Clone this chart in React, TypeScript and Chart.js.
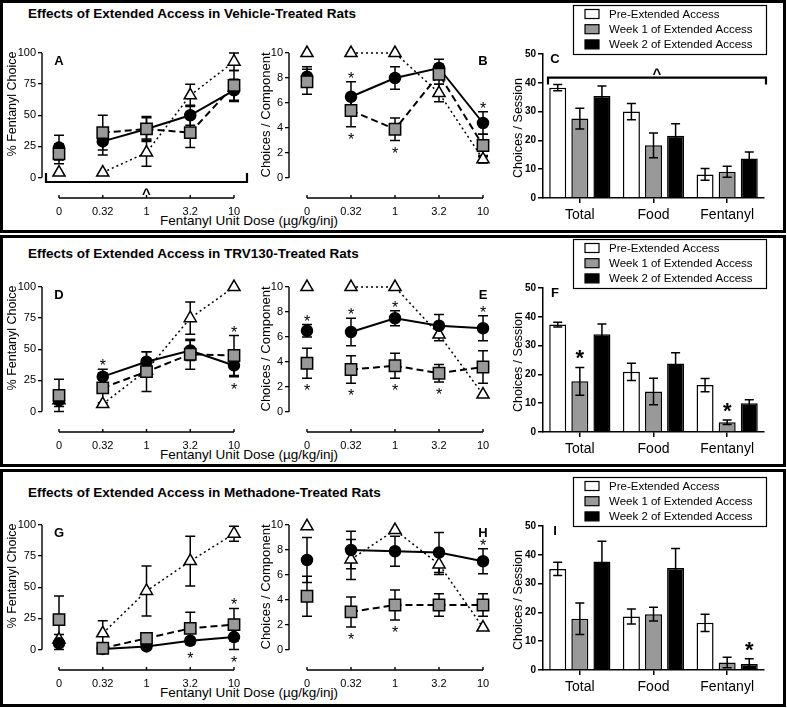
import React, { useEffect, useRef } from 'react';
import { Chart, registerables } from 'chart.js';

Chart.register(...registerables);

const FONT = '"Liberation Sans", Arial, Helvetica, sans-serif';
Chart.defaults.font.family = FONT;
Chart.defaults.color = '#000';

// ---------- labels ----------
const DOSE_LABELS = ['0', '0.32', '1', '3.2', '10'];
const BAR_LABELS = ['Total', 'Food', 'Fentanyl'];
const SERIES_NAMES = ['Pre-Extended Access', 'Week 1 of Extended Access', 'Week 2 of Extended Access'];
const ROW_TITLES = [
  'Effects of Extended Access in Vehicle-Treated Rats',
  'Effects of Extended Access in TRV130-Treated Rats',
  'Effects of Extended Access in Methadone-Treated Rats',
];
const X_TITLE = 'Fentanyl Unit Dose (µg/kg/inj)';
const PCT_TITLE = '% Fentanyl Choice';
const COMP_TITLE = 'Choices / Component';
const SESSION_TITLE = 'Choices / Session';
const PCT_TICKS = [0, 25, 50, 75, 100];
const COMP_TICKS = [0, 2, 4, 6, 8, 10];

// ---------- data (mean, SEM) ----------
// A: % fentanyl choice, vehicle
const A_PRE = [4, 4, 20, 66, 93];
const A_PRE_SEM = [0, 0, 11, 9, 7];
const A_WK1 = [19, 36, 39, 36, 74];
const A_WK1_SEM = [8, 14, 9, 12, 12];
const A_WK2 = [24, 29, 39, 50, 70];
const A_WK2_SEM = [10, 11, 10, 8, 9];
// B: choices / component, vehicle
const B_PRE = [10, 10, 10, 6.8, 1.5];
const B_PRE_SEM = [0, 0, 0, 0.7, 0.3];
const B_WK1 = [7.7, 5.4, 3.9, 8.3, 2.6];
const B_WK1_SEM = [1.0, 1.3, 0.9, 0.8, 0.9];
const B_WK2 = [8.1, 6.5, 8.0, 8.8, 4.4];
const B_WK2_SEM = [0.8, 1.2, 0.9, 0.7, 0.9];
// C: choices / session, vehicle (Total, Food, Fentanyl)
const C_PRE = [38.3, 30.0, 8.2];
const C_PRE_SEM = [1.1, 2.8, 2.0];
const C_WK1 = [27.6, 18.3, 9.1];
const C_WK1_SEM = [3.6, 4.3, 1.9];
const C_WK2 = [35.4, 21.6, 13.7];
const C_WK2_SEM = [3.5, 4.2, 2.3];
// D: % fentanyl choice, TRV130
const D_PRE = [9, 6, 33, 75, 100];
const D_PRE_SEM = [0, 0, 0, 13, 0];
const D_WK1 = [13, 19, 32, 46, 45];
const D_WK1_SEM = [13, 12, 16, 12, 16];
const D_WK2 = [9, 28, 40, 49, 37];
const D_WK2_SEM = [5, 6, 8, 8, 9];
// E: choices / component, TRV130
const E_PRE = [10, 10, 10, 6.2, 1.4];
const E_PRE_SEM = [0, 0, 0, 0.5, 0];
const E_WK1 = [3.9, 3.4, 3.7, 3.1, 3.6];
const E_WK1_SEM = [1.2, 1.1, 1.0, 0.7, 1.3];
const E_WK2 = [6.5, 6.4, 7.5, 6.9, 6.7];
const E_WK2_SEM = [0.5, 1.1, 0.6, 0.9, 1.0];
// F: choices / session, TRV130
const F_PRE = [37.3, 20.9, 16.3];
const F_PRE_SEM = [0.8, 3.0, 2.3];
const F_WK1 = [17.6, 14.1, 3.4];
const F_WK1_SEM = [4.8, 4.6, 0.8];
const F_WK2 = [33.9, 23.8, 10.0];
const F_WK2_SEM = [3.6, 3.7, 1.2];
// G: % fentanyl choice, methadone
const G_PRE = [8, 13, 47, 71, 93];
const G_PRE_SEM = [0, 10, 20, 20, 6];
const G_WK1 = [24, 1, 9, 17, 20];
const G_WK1_SEM = [19, 0, 4, 13, 13];
const G_WK2 = [5, 0.5, 2.5, 7, 10];
const G_WK2_SEM = [7, 0, 0, 0, 10];
// H: choices / component, methadone
const H_PRE = [9.9, 7.25, 9.6, 6.85, 1.8];
const H_PRE_SEM = [0, 1.6, 0, 0.8, 0];
const H_WK1 = [4.3, 3.05, 3.6, 3.6, 3.6];
const H_WK1_SEM = [1.6, 1.2, 1.2, 0.9, 0.9];
const H_WK2 = [7.2, 8.0, 7.9, 7.8, 7.1];
const H_WK2_SEM = [1.8, 1.5, 1.2, 1.6, 1.0];
// I: choices / session, methadone
const I_PRE = [35.1, 18.6, 16.4];
const I_PRE_SEM = [2.3, 2.6, 3.0];
const I_WK1 = [17.8, 19.4, 2.6];
const I_WK1_SEM = [5.5, 2.4, 1.8];
const I_WK2 = [37.7, 35.4, 2.1];
const I_WK2_SEM = [7.0, 6.8, 1.8];

// significance marks: [series, index, side (1 above / -1 below)]
const B_STARS: [string, number, number][] = [['wk2', 1, 1], ['wk1', 1, -1], ['wk1', 2, -1], ['wk2', 4, 1]];
const D_STARS: [string, number, number][] = [['wk2', 1, 1], ['wk1', 4, 1], ['wk2', 4, -1]];
const E_STARS: [string, number, number][] = [
  ['wk2', 0, 1], ['wk2', 1, 1], ['wk2', 2, 1], ['wk2', 4, 1],
  ['wk1', 0, -1], ['wk1', 1, -1], ['wk1', 2, -1], ['wk1', 3, -1],
];
const G_STARS: [string, number, number][] = [['wk1', 4, 1], ['wk2', 3, -1], ['wk2', 4, -1]];
const H_STARS: [string, number, number][] = [['wk2', 4, 1], ['wk1', 1, -1], ['wk1', 2, -1]];
const F_STARS: [string, number][] = [['wk1', 0], ['wk1', 2]];
const I_STARS: [string, number][] = [['wk2', 2]];

// ---------- layout ----------
const ROW_DY = [0, 234, 472];
const ROW_BOX = [
  { top: 0, height: 233 },
  { top: 235, height: 232 },
  { top: 469, height: 238 },
];
const TITLE_Y = [14, 254, 493];
const GRAY = '#999999';

type Geo = { cl: number; ct: number; cw: number; ch: number; left: number; right: number; top: number; bottom: number; zero: number; first: number; last: number };
const PCT_GEO: Geo = { cl: 3, ct: 28, cw: 255, ch: 202, left: 42, right: 247, top: 53, bottom: 198, zero: 177.5, first: 59, last: 234 };
const COMP_GEO: Geo = { cl: 258, ct: 28, cw: 252, ch: 202, left: 289, right: 495, top: 53, bottom: 198, zero: 178, first: 307, last: 483 };
const BAR_GEO = { cl: 510, ct: 2, cw: 274, ch: 228, left: 543, right: 764, top: 54, bottom: 198 };

type LineCfg = {
  row: number; kind: 'pct' | 'comp'; letter: string; letterAt: number;
  pre: number[]; preSem: number[]; wk1: number[]; wk1Sem: number[]; wk2: number[]; wk2Sem: number[];
  stars: [string, number, number][]; bracket?: boolean;
};
type BarCfg = {
  row: number; letter: string;
  pre: number[]; preSem: number[]; wk1: number[]; wk1Sem: number[]; wk2: number[]; wk2Sem: number[];
  stars: [string, number][]; bracket?: boolean;
};

const LINE_PANELS: LineCfg[] = [
  { row: 0, kind: 'pct', letter: 'A', letterAt: 0, pre: A_PRE, preSem: A_PRE_SEM, wk1: A_WK1, wk1Sem: A_WK1_SEM, wk2: A_WK2, wk2Sem: A_WK2_SEM, stars: [], bracket: true },
  { row: 0, kind: 'comp', letter: 'B', letterAt: 4, pre: B_PRE, preSem: B_PRE_SEM, wk1: B_WK1, wk1Sem: B_WK1_SEM, wk2: B_WK2, wk2Sem: B_WK2_SEM, stars: B_STARS },
  { row: 1, kind: 'pct', letter: 'D', letterAt: 0, pre: D_PRE, preSem: D_PRE_SEM, wk1: D_WK1, wk1Sem: D_WK1_SEM, wk2: D_WK2, wk2Sem: D_WK2_SEM, stars: D_STARS },
  { row: 1, kind: 'comp', letter: 'E', letterAt: 4, pre: E_PRE, preSem: E_PRE_SEM, wk1: E_WK1, wk1Sem: E_WK1_SEM, wk2: E_WK2, wk2Sem: E_WK2_SEM, stars: E_STARS },
  { row: 2, kind: 'pct', letter: 'G', letterAt: 0, pre: G_PRE, preSem: G_PRE_SEM, wk1: G_WK1, wk1Sem: G_WK1_SEM, wk2: G_WK2, wk2Sem: G_WK2_SEM, stars: G_STARS },
  { row: 2, kind: 'comp', letter: 'H', letterAt: 4, pre: H_PRE, preSem: H_PRE_SEM, wk1: H_WK1, wk1Sem: H_WK1_SEM, wk2: H_WK2, wk2Sem: H_WK2_SEM, stars: H_STARS },
];
const BAR_PANELS: BarCfg[] = [
  { row: 0, letter: 'C', pre: C_PRE, preSem: C_PRE_SEM, wk1: C_WK1, wk1Sem: C_WK1_SEM, wk2: C_WK2, wk2Sem: C_WK2_SEM, stars: [], bracket: true },
  { row: 1, letter: 'F', pre: F_PRE, preSem: F_PRE_SEM, wk1: F_WK1, wk1Sem: F_WK1_SEM, wk2: F_WK2, wk2Sem: F_WK2_SEM, stars: F_STARS },
  { row: 2, letter: 'I', pre: I_PRE, preSem: I_PRE_SEM, wk1: I_WK1, wk1Sem: I_WK1_SEM, wk2: I_WK2, wk2Sem: I_WK2_SEM, stars: I_STARS },
];

// ---------- helpers ----------
function glyphCentered(ctx: CanvasRenderingContext2D, text: string, x: number, y: number, font: string, rise: number) {
  ctx.font = font;
  ctx.textAlign = 'center';
  ctx.textBaseline = 'alphabetic';
  ctx.fillStyle = '#000';
  ctx.fillText(text, x, y + rise);
}
function verticalTitle(ctx: CanvasRenderingContext2D, text: string, x: number, y: number, size: number) {
  ctx.save();
  ctx.translate(x, y);
  ctx.rotate(-Math.PI / 2);
  ctx.font = `${size}px ${FONT}`;
  ctx.textAlign = 'center';
  ctx.textBaseline = 'middle';
  ctx.fillStyle = '#000';
  ctx.fillText(text, 0, 0);
  ctx.restore();
}
function errBar(ctx: CanvasRenderingContext2D, x: number, y1: number, y2: number, half: number) {
  ctx.beginPath();
  ctx.moveTo(x, y1); ctx.lineTo(x, y2);
  ctx.moveTo(x - half, y1); ctx.lineTo(x + half, y1);
  ctx.moveTo(x - half, y2); ctx.lineTo(x + half, y2);
  ctx.stroke();
}

function buildLineChart(canvas: HTMLCanvasElement, cfg: LineCfg) {
  const geo = cfg.kind === 'pct' ? PCT_GEO : COMP_GEO;
  const max = cfg.kind === 'pct' ? 100 : 10;
  const tickVals = cfg.kind === 'pct' ? PCT_TICKS : COMP_TICKS;
  const ppu = (geo.zero - geo.top) / max;
  const yMin = -(geo.bottom - geo.zero) / ppu;
  const n = DOSE_LABELS.length - 1;
  const xu = (geo.last - geo.first) / n;
  const xMin = -(geo.first - geo.left) / xu;
  const xMax = n + (geo.right - geo.last) / xu;

  const series: Record<string, any> = {
    wk1: { name: SERIES_NAMES[1], values: cfg.wk1, sem: cfg.wk1Sem, style: 'rect', fill: GRAY, r: 8, dash: [7, 4], lw: 2 },
    wk2: { name: SERIES_NAMES[2], values: cfg.wk2, sem: cfg.wk2Sem, style: 'circle', fill: '#000', r: 5.5, dash: [], lw: 2 },
    pre: { name: SERIES_NAMES[0], values: cfg.pre, sem: cfg.preSem, style: 'triangle', fill: '#fff', r: 7, dash: [2, 3], lw: 1.5 },
  };
  const order = ['wk1', 'wk2', 'pre'];
  const datasets = order.map((k) => {
    const s = series[k];
    return {
      label: s.name,
      data: s.values.map((v: number, i: number) => ({ x: i, y: v })),
      borderColor: '#000',
      borderWidth: s.lw,
      borderDash: s.dash,
      pointStyle: s.style,
      pointRadius: s.r,
      pointHoverRadius: s.r,
      pointBackgroundColor: s.fill,
      pointBorderColor: '#000',
      pointBorderWidth: 1.5,
      tension: 0,
      clip: false as any,
      segment: { borderColor: (c: any) => (c.p0DataIndex === 0 ? 'rgba(0,0,0,0)' : undefined) },
    };
  });

  const decor = {
    id: 'lineDecor' + cfg.letter,
    beforeDatasetsDraw(chart: any) {
      const { ctx, chartArea, scales } = chart;
      const x = scales.x, y = scales.y;
      ctx.save();
      ctx.strokeStyle = '#000';
      ctx.lineWidth = 1.4;
      ctx.setLineDash([]);
      // detached axis lines
      ctx.beginPath();
      ctx.moveTo(chartArea.left, y.getPixelForValue(0));
      ctx.lineTo(chartArea.left, y.getPixelForValue(max));
      ctx.stroke();
      const xb = chartArea.bottom;
      ctx.beginPath();
      ctx.moveTo(x.getPixelForValue(0), xb);
      ctx.lineTo(x.getPixelForValue(n), xb);
      for (let i = 0; i <= n; i++) {
        const px = x.getPixelForValue(i);
        ctx.moveTo(px, xb);
        ctx.lineTo(px, xb - 3);
      }
      ctx.stroke();
      // error bars
      ctx.lineWidth = 1.5;
      order.forEach((k) => {
        const s = series[k];
        s.values.forEach((v: number, i: number) => {
          const e = s.sem[i];
          if (!e) return;
          errBar(ctx, x.getPixelForValue(i), y.getPixelForValue(v + e), y.getPixelForValue(Math.max(v - e, 0)), 5);
        });
      });
      ctx.restore();
    },
    afterDatasetsDraw(chart: any) {
      const { ctx, chartArea, scales } = chart;
      const x = scales.x, y = scales.y;
      ctx.save();
      // significance stars
      cfg.stars.forEach(([k, i, side]) => {
        const s = series[k];
        const v = s.values[i], e = s.sem[i] || 0;
        const px = x.getPixelForValue(i);
        let cy: number;
        if (side > 0) {
          cy = Math.min(y.getPixelForValue(v + e), y.getPixelForValue(v) - s.r) - 7;
        } else {
          cy = Math.max(y.getPixelForValue(Math.max(v - e, 0)), y.getPixelForValue(v) + s.r) + 9;
        }
        glyphCentered(ctx, '*', px, cy, `16px ${FONT}`, 9);
      });
      // panel letter
      glyphCentered(ctx, cfg.letter, x.getPixelForValue(cfg.letterAt), chartArea.top + 7, `bold 13px ${FONT}`, 4.5);
      // y title
      if (cfg.kind === 'pct') verticalTitle(ctx, PCT_TITLE, chartArea.left - 29, chartArea.top + 51, 12.5);
      else verticalTitle(ctx, COMP_TITLE, chartArea.left - 22.5, chartArea.top + 62, 13);
      // bracket
      if (cfg.bracket) {
        const by = y.getPixelForValue(0) + 4.5;
        ctx.strokeStyle = '#000';
        ctx.lineWidth = 2.2;
        ctx.beginPath();
        ctx.moveTo(chartArea.left + 4, by - 9);
        ctx.lineTo(chartArea.left + 4, by);
        ctx.lineTo(chartArea.right, by);
        ctx.lineTo(chartArea.right, by - 9);
        ctx.stroke();
        glyphCentered(ctx, '^', x.getPixelForValue(2), by + 8, `bold 15px ${FONT}`, 9);
      }
      ctx.restore();
    },
  };

  return new Chart(canvas, {
    type: 'line',
    data: { datasets: datasets as any },
    plugins: [decor],
    options: {
      responsive: false,
      maintainAspectRatio: false,
      devicePixelRatio: 1,
      animation: false,
      events: [],
      layout: { padding: { left: 0, top: geo.top - geo.ct, right: geo.cl + geo.cw - geo.right, bottom: 0 } },
      plugins: { legend: { display: false }, tooltip: { enabled: false }, title: { display: false } },
      scales: {
        x: {
          type: 'linear',
          min: xMin,
          max: xMax,
          afterBuildTicks: (s: any) => { s.ticks = DOSE_LABELS.map((_, i) => ({ value: i })); },
          afterFit: (s: any) => { s.height = geo.ct + geo.ch - geo.bottom; },
          grid: { display: false, drawTicks: false },
          border: { display: false },
          ticks: { callback: (v: any) => DOSE_LABELS[v] ?? '', font: { size: 11 }, color: '#000', padding: 7, maxRotation: 0, autoSkip: false },
        },
        y: {
          type: 'linear',
          min: yMin,
          max: max,
          afterBuildTicks: (s: any) => { s.ticks = tickVals.map((v) => ({ value: v })); },
          afterFit: (s: any) => { s.width = geo.left - geo.cl; },
          grid: { drawOnChartArea: false, drawTicks: true, tickLength: 4, color: '#000', lineWidth: 1.3 },
          border: { display: false },
          ticks: { font: { size: 11 }, color: '#000', padding: 2 },
        },
      },
    },
  });
}

function buildBarChart(canvas: HTMLCanvasElement, cfg: BarCfg) {
  const geo = BAR_GEO;
  const keys = ['pre', 'wk1', 'wk2'];
  const fills = ['#ffffff', GRAY, '#000000'];
  const vals: Record<string, number[]> = { pre: cfg.pre, wk1: cfg.wk1, wk2: cfg.wk2 };
  const sems: Record<string, number[]> = { pre: cfg.preSem, wk1: cfg.wk1Sem, wk2: cfg.wk2Sem };
  const datasets = keys.map((k, i) => ({
    label: SERIES_NAMES[i],
    data: vals[k],
    backgroundColor: fills[i],
    borderColor: '#000',
    borderWidth: 1.5,
    barPercentage: 0.77,
    categoryPercentage: 0.9,
  }));

  const decor = {
    id: 'barDecor' + cfg.letter,
    afterDatasetsDraw(chart: any) {
      const { ctx, chartArea, scales } = chart;
      const y = scales.y;
      ctx.save();
      ctx.strokeStyle = '#000';
      ctx.lineWidth = 1.5;
      keys.forEach((k, di) => {
        const meta = chart.getDatasetMeta(di);
        meta.data.forEach((bar: any, j: number) => {
          const v = vals[k][j], e = sems[k][j];
          errBar(ctx, bar.x, y.getPixelForValue(v + e), y.getPixelForValue(Math.max(v - e, 0)), 4.5);
        });
      });
      cfg.stars.forEach(([k, j]) => {
        const di = keys.indexOf(k);
        const bar = chart.getDatasetMeta(di).data[j];
        const v = vals[k][j], e = sems[k][j];
        glyphCentered(ctx, '*', bar.x, y.getPixelForValue(v + e) - 14, `bold 22px ${FONT}`, 12);
      });
      // letter
      glyphCentered(ctx, cfg.letter, chartArea.left + 12, chartArea.top + 4, `bold 13px ${FONT}`, 4.5);
      // y title
      verticalTitle(ctx, SESSION_TITLE, chartArea.left - 24, (chartArea.top + chartArea.bottom) / 2 + 2, 12.5);
      // bracket
      if (cfg.bracket) {
        const by = y.getPixelForValue(41.8);
        const bl = chartArea.left + 5, br = chartArea.right + 2;
        ctx.lineWidth = 2.2;
        ctx.beginPath();
        ctx.moveTo(bl, by + 7);
        ctx.lineTo(bl, by);
        ctx.lineTo(br, by);
        ctx.lineTo(br, by + 7);
        ctx.stroke();
        glyphCentered(ctx, '^', (bl + br) / 2, by - 8, `bold 15px ${FONT}`, 9);
      }
      // legend
      const lx = chartArea.left + 30, lr = chartArea.right + 2;
      const lt = chartArea.top - 49, lb = chartArea.top;
      ctx.lineWidth = 1.2;
      ctx.fillStyle = '#fff';
      ctx.fillRect(lx, lt, lr - lx, lb - lt);
      ctx.strokeRect(lx + 0.5, lt + 0.5, lr - lx, lb - lt);
      SERIES_NAMES.forEach((name, i) => {
        const cy = lt + 9 + i * 15.2;
        ctx.fillStyle = fills[i];
        ctx.fillRect(lx + 12, cy - 4.5, 14, 9);
        ctx.lineWidth = 1.2;
        ctx.strokeStyle = '#000';
        ctx.strokeRect(lx + 12, cy - 4.5, 14, 9);
        ctx.fillStyle = '#000';
        ctx.font = `11.5px ${FONT}`;
        ctx.textAlign = 'left';
        ctx.textBaseline = 'middle';
        ctx.fillText(name, lx + 36, cy + 0.5);
      });
      ctx.restore();
    },
  };

  return new Chart(canvas, {
    type: 'bar',
    data: { labels: BAR_LABELS, datasets: datasets as any },
    plugins: [decor],
    options: {
      responsive: false,
      maintainAspectRatio: false,
      devicePixelRatio: 1,
      animation: false,
      events: [],
      layout: { padding: { left: 0, top: geo.top - geo.ct, right: geo.cl + geo.cw - geo.right, bottom: 0 } },
      plugins: { legend: { display: false }, tooltip: { enabled: false }, title: { display: false } },
      scales: {
        x: {
          type: 'category',
          offset: true,
          afterFit: (s: any) => { s.height = geo.ct + geo.ch - geo.bottom; },
          grid: { display: true, offset: false, drawOnChartArea: false, drawTicks: true, tickLength: 5, color: '#000', lineWidth: 1.5 },
          border: { display: true, color: '#000', width: 1.5 },
          ticks: { font: { size: 14 }, color: '#000', padding: 4, maxRotation: 0, autoSkip: false },
        },
        y: {
          type: 'linear',
          min: 0,
          max: 50,
          afterFit: (s: any) => { s.width = geo.left - geo.cl; },
          grid: { drawOnChartArea: false, drawTicks: true, tickLength: 5, color: '#000', lineWidth: 1.5 },
          border: { display: true, color: '#000', width: 1.5 },
          ticks: { stepSize: 10, font: { size: 10, weight: 'bold' }, color: '#000', padding: 2 },
        },
      },
    },
  });
}

function LinePanel({ cfg }: { cfg: LineCfg }) {
  const ref = useRef<HTMLCanvasElement>(null);
  const geo = cfg.kind === 'pct' ? PCT_GEO : COMP_GEO;
  useEffect(() => {
    const chart = buildLineChart(ref.current as HTMLCanvasElement, cfg);
    return () => chart.destroy();
  }, []);
  return (
    <canvas
      ref={ref}
      width={geo.cw}
      height={geo.ch}
      style={{ position: 'absolute', left: geo.cl, top: geo.ct + ROW_DY[cfg.row], width: geo.cw, height: geo.ch }}
    />
  );
}

function BarPanel({ cfg }: { cfg: BarCfg }) {
  const ref = useRef<HTMLCanvasElement>(null);
  const geo = BAR_GEO;
  useEffect(() => {
    const chart = buildBarChart(ref.current as HTMLCanvasElement, cfg);
    return () => chart.destroy();
  }, []);
  return (
    <canvas
      ref={ref}
      width={geo.cw}
      height={geo.ch}
      style={{ position: 'absolute', left: geo.cl, top: geo.ct + ROW_DY[cfg.row], width: geo.cw, height: geo.ch }}
    />
  );
}

export default function App() {
  return (
    <div style={{ position: 'absolute', left: 0, top: 0, width: 787, height: 708, background: '#fff', fontFamily: FONT, color: '#000', overflow: 'hidden' }}>
      {ROW_BOX.map((b, i) => (
        <div key={'box' + i} style={{ position: 'absolute', left: 0, top: b.top, width: 786, height: b.height, border: '3px solid #000', boxSizing: 'border-box' }} />
      ))}
      {ROW_TITLES.map((t, i) => (
        <div key={'t' + i} style={{ position: 'absolute', left: 28, top: TITLE_Y[i] - 8, fontSize: 13.5, fontWeight: 'bold', lineHeight: '16px', whiteSpace: 'nowrap' }}>{t}</div>
      ))}
      {ROW_DY.map((dy, i) => (
        <div key={'x' + i} style={{ position: 'absolute', left: 160, top: 221 + dy - 8, fontSize: 13.5, lineHeight: '16px', whiteSpace: 'nowrap' }}>{X_TITLE}</div>
      ))}
      {LINE_PANELS.map((c) => <LinePanel key={c.letter} cfg={c} />)}
      {BAR_PANELS.map((c) => <BarPanel key={c.letter} cfg={c} />)}
    </div>
  );
}
